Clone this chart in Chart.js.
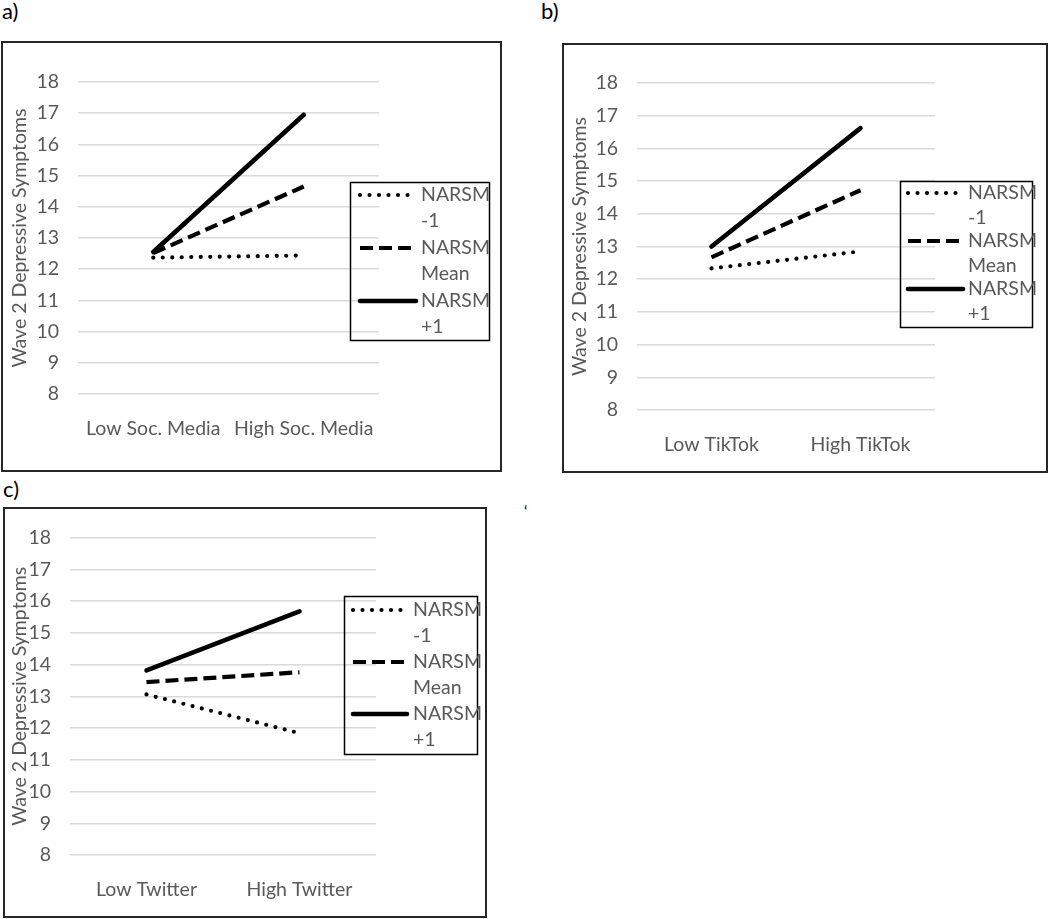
<!DOCTYPE html>
<html><head><meta charset="utf-8">
<script src="https://cdn.jsdelivr.net/npm/chart.js@4"></script>
<style>
body{margin:0;width:1050px;height:919px;background:#fff;position:relative;overflow:hidden;font-family:Lato, sans-serif}
canvas{position:absolute}
.frame{position:absolute;border:2px solid #262626;box-sizing:border-box;pointer-events:none}
.lbl{position:absolute;font-size:22px;color:#000;line-height:1}
</style></head><body>
<div class="lbl" style="left:2px;top:0px">a)</div>
<div class="lbl" style="left:541px;top:0px">b)</div>
<div class="lbl" style="left:3px;top:478px">c)</div>
<div class="lbl" style="left:524px;top:503px;font-size:16px">‘</div>
<canvas id="ca"></canvas><div class="frame" id="fa"></div>
<canvas id="cb"></canvas><div class="frame" id="fb"></div>
<canvas id="cc"></canvas><div class="frame" id="fc"></div>
<script>
// ---- data ----
const categoriesA = ['Low Soc. Media', 'High Soc. Media'];
const categoriesB = ['Low TikTok', 'High TikTok'];
const categoriesC = ['Low Twitter', 'High Twitter'];
const seriesLabels = ['NARSM -1', 'NARSM Mean', 'NARSM +1'];
const legendLines = [['NARSM', '-1'], ['NARSM', 'Mean'], ['NARSM', '+1']];
const aMinus1 = [12.37, 12.44];
const aMean = [12.52, 14.65];
const aPlus1 = [12.55, 16.95];
const bMinus1 = [12.33, 12.85];
const bMean = [12.67, 14.72];
const bPlus1 = [13.0, 16.62];
const cMinus1 = [13.06, 11.84];
const cMean = [13.45, 13.76];
const cPlus1 = [13.82, 15.68];
const yMin = 8, yMax = 18, yStep = 1;
const yTitle = 'Wave 2 Depressive Symptoms';

// ---- styles ----
const GRAY = '#595959';
const FS = 19.5;
const styles = [
  {borderColor:'#000', borderWidth:4.2, borderDash:[0, 9.5], borderCapStyle:'round'},
  {borderColor:'#000', borderWidth:4.2, borderDash:[13, 6], borderCapStyle:'butt'},
  {borderColor:'#000', borderWidth:4.6, borderDash:[], borderCapStyle:'round'}
];

const boxLegend = {
  id:'boxLegend',
  afterDraw(chart, args, o){
    const ctx = chart.ctx;
    ctx.save();
    ctx.strokeStyle = '#000'; ctx.lineWidth = 1.5; ctx.setLineDash([]);
    ctx.strokeRect(o.x + 0.5, o.y + 0.5, o.w, o.h);
    chart.data.datasets.forEach((ds, i) => {
      const y = o.y + o.row0 + i * o.step;
      ctx.beginPath();
      ctx.setLineDash(ds.borderDash || []);
      ctx.lineCap = ds.borderCapStyle || 'butt';
      ctx.lineWidth = ds.borderWidth;
      ctx.strokeStyle = ds.borderColor;
      ctx.moveTo(o.x + o.s0, y); ctx.lineTo(o.x + o.s1, y);
      ctx.stroke();
      ctx.setLineDash([]);
      ctx.fillStyle = GRAY;
      ctx.font = FS + 'px Lato';
      ctx.textBaseline = 'middle';
      legendLines[i].forEach((t, j) => ctx.fillText(t, o.x + o.tx, y + j * o.lh));
    });
    ctx.restore();
  }
};

function makeChart(cid, fid, cats, series, g){
  const cv = document.getElementById(cid);
  cv.width = g.w; cv.height = g.h;
  cv.style.left = g.x + 'px'; cv.style.top = g.y + 'px';
  const fr = document.getElementById(fid);
  fr.style.left = g.x + 'px'; fr.style.top = g.y + 'px';
  fr.style.width = g.w + 'px'; fr.style.height = g.h + 'px';
  const font = {family:'Lato', size:FS};
  new Chart(cv, {
    type:'line',
    data:{labels:cats, datasets:series.map((d, i) => Object.assign({label:seriesLabels[i], data:d, pointRadius:0, tension:0, fill:false}, styles[i]))},
    options:{
      responsive:false, animation:false, devicePixelRatio:1,
      layout:{padding:{left:0, top:g.top, right:g.w - g.right, bottom:g.h - g.bottom - g.xh}},
      plugins:{legend:{display:false}, tooltip:{enabled:false}, boxLegend:g.legend},
      scales:{
        x:{offset:true, grid:{display:false}, border:{display:false},
           ticks:{padding:g.xpad, color:GRAY, font, maxRotation:0},
           afterFit(s){ s.height = g.xh; }},
        y:{min:yMin, max:yMax,
           ticks:{stepSize:yStep, padding:19, color:GRAY, font},
           grid:{color:'#d9d9d9', lineWidth:1.5, drawTicks:false}, border:{display:false},
           title:{display:true, text:yTitle, color:GRAY, font, padding:{top:g.tpad, bottom:0}},
           afterFit(s){ s.width = g.left; }}
      }
    },
    plugins:[boxLegend]
  });
}

makeChart('ca', 'fa', categoriesA, [aMinus1, aMean, aPlus1],
  {x:1, y:41, w:501, h:431, left:77, right:378, top:41, bottom:353, xh:60, xpad:15, tpad:7,
   legend:{x:349, y:141, w:139, h:158, row0:13, step:53, lh:26, s0:10, s1:66, tx:71}});
makeChart('cb', 'fb', categoriesB, [bMinus1, bMean, bPlus1],
  {x:562, y:43, w:486, h:430, left:75, right:373, top:40, bottom:367, xh:50, xpad:15, tpad:6,
   legend:{x:338, y:138, w:132, h:146, row0:12, step:48, lh:25, s0:8, s1:63, tx:68}});
makeChart('cc', 'fc', categoriesC, [cMinus1, cMean, cPlus1],
  {x:3, y:507, w:484, h:411, left:67, right:373, top:20, bottom:348, xh:50, xpad:15, tpad:5,
   legend:{x:341, y:89, w:133, h:158, row0:14, step:52, lh:26, s0:9, s1:63, tx:69}});
</script>
</body></html>
